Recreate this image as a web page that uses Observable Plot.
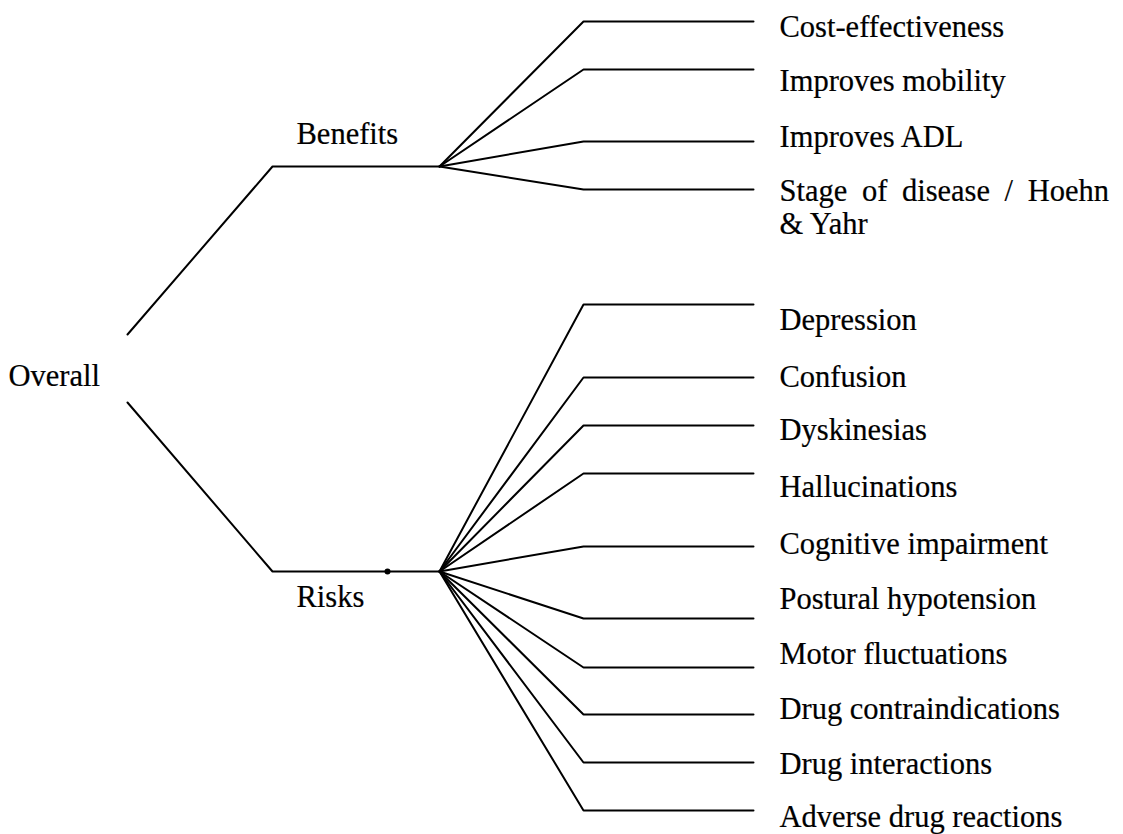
<!DOCTYPE html>
<html>
<head>
<meta charset="utf-8">
<script src="https://cdn.jsdelivr.net/npm/d3@7"></script>
<script src="https://cdn.jsdelivr.net/npm/@observablehq/plot@0.6"></script>
<style>
  html, body { margin: 0; padding: 0; background: #fff; }
  #chart svg { display: block; }
</style>
</head>
<body>
<div id="chart"></div>
<script>
// ---- Data ----
const rootLabel = "Overall";
const groups = ["Benefits", "Risks"];
const groupY = [166, 571];            // level of each group's stem
const groupLabelY = [134, 597];

const benefits = ["Cost-effectiveness", "Improves mobility", "Improves ADL", "Stage of disease / Hoehn\n& Yahr"];
const benefitBranchY = [21, 69, 141, 189];
const benefitLabelY = [25, 79, 135, 189];

const risks = ["Depression", "Confusion", "Dyskinesias", "Hallucinations", "Cognitive impairment",
  "Postural hypotension", "Motor fluctuations", "Drug contraindications", "Drug interactions", "Adverse drug reactions"];
const riskBranchY = [304, 377, 425, 473, 546, 618, 667, 714, 762, 810];
const riskLabelY = [318, 375, 428, 485, 542, 597, 652, 707, 762, 815];

// column layout (x in diagram units)
const col = {rootEnd: 127, groupStart: 272, fan: 439, leafStart: 583, leafEnd: 753, leafLabel: 779, rootLabel: 8, groupLabel: 296};
const rootY = 368, rootGap = 34;

// ---- Build segments ----
const paths = [];
groups.forEach((g, i) => {
  const yStart = i === 0 ? rootY - rootGap : rootY + rootGap;
  paths.push({id: g, x: col.rootEnd, y: yStart});
  paths.push({id: g, x: col.groupStart, y: groupY[i]});
  paths.push({id: g, x: col.fan, y: groupY[i]});
});
const leafSets = [[benefits, benefitBranchY, 0], [risks, riskBranchY, 1]];
leafSets.forEach(([names, ys, gi]) => {
  names.forEach((n, j) => {
    paths.push({id: n, x: col.fan, y: groupY[gi]});
    paths.push({id: n, x: col.leafStart, y: ys[j]});
    paths.push({id: n, x: col.leafEnd, y: ys[j]});
  });
});

const leafLabels = [
  ...benefits.map((n, j) => ({text: n, x: col.leafLabel, y: benefitLabelY[j]})),
  ...risks.map((n, j) => ({text: n, x: col.leafLabel, y: riskLabelY[j]}))
];
const groupLabels = groups.map((g, i) => ({text: g, x: col.groupLabel, y: groupLabelY[i]}));
const rootLabels = [{text: rootLabel, x: col.rootLabel, y: rootY + 8}];
const dots = [{x: 387, y: groupY[1]}];

const FONT = 30.5;
const plot = Plot.plot({
  width: 1123,
  height: 834,
  margin: 0,
  x: {domain: [0, 1123], range: [0, 1123], axis: null},
  y: {domain: [0, 834], range: [0, 834], axis: null},
  style: {fontFamily: "'Liberation Serif', 'Times New Roman', serif", background: "#fff", color: "#000"},
  marks: [
    Plot.line(paths, {x: "x", y: "y", z: "id", stroke: "#000", strokeWidth: 2, strokeLinejoin: "miter", curve: "linear"}),
    Plot.dot(dots, {x: "x", y: "y", r: 3, fill: "#000"}),
    Plot.text(leafLabels, {x: "x", y: "y", text: "text", textAnchor: "start", lineAnchor: "top", dy: -0.39 * FONT, lineHeight: 1.08, fontSize: FONT, fill: "#000", stroke: "#000", strokeWidth: 0.2}),
    Plot.text(groupLabels, {x: "x", y: "y", text: "text", textAnchor: "start", lineAnchor: "middle", fontSize: FONT, fill: "#000", stroke: "#000", strokeWidth: 0.2}),
    Plot.text(rootLabels, {x: "x", y: "y", text: "text", textAnchor: "start", lineAnchor: "middle", fontSize: FONT, fill: "#000", stroke: "#000", strokeWidth: 0.2})
  ]
});
document.getElementById("chart").appendChild(plot);
// justified first line of the wrapped label
d3.select(plot).selectAll("text tspan").filter(function() {
  return this.textContent.startsWith("Stage of disease");
}).style("word-spacing", "7px");
</script>
</body>
</html>
